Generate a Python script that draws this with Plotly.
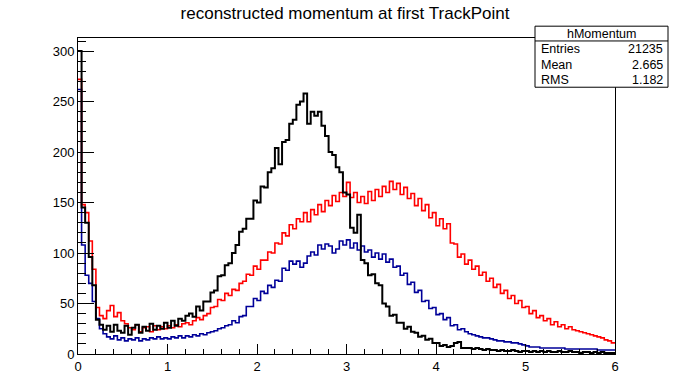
import numpy as np
import plotly.graph_objects as go

# ---------------- data ----------------
x_min, x_max = 0.0, 6.0
bin_width = 0.04

black_counts = [
    300, 145, 130, 96, 68, 34,
    29, 24, 28, 22, 29, 23,
    21, 28, 19, 26, 29, 21,
    27, 23, 30, 24, 28, 25,
    31, 26, 33, 28, 35, 33,
    38, 40, 37, 47, 43, 52,
    52, 61, 63, 77, 78, 88,
    90, 100, 108, 121, 124, 134,
    134, 152, 150, 166, 165, 180,
    184, 204, 188, 210, 212, 228,
    232, 247, 250, 258, 228, 240,
    236, 240, 226, 216, 200, 197,
    185, 180, 160, 158, 125, 120,
    138, 93, 90, 78, 79, 70,
    68, 50, 47, 38, 39, 31,
    31, 25, 27, 22, 21, 17,
    18, 14, 15, 11, 11, 8,
    9, 7, 8, 11, 12, 6,
    6, 6, 5, 6, 5, 4,
    5, 4, 4, 3, 4, 3,
    3, 4, 3, 2, 3, 3,
    2, 3, 2, 3, 2, 3,
    2, 2, 3, 2, 2, 3,
    2, 2, 1, 2, 2, 1,
    2, 1, 2, 1, 1, 1,
]

red_counts = [
    272, 148, 140, 112, 84, 46,
    38, 35, 43, 48, 37, 41,
    33, 30, 26, 24, 29, 22,
    26, 27, 22, 28, 24, 27,
    25, 28, 26, 29, 27, 30,
    31, 29, 33, 36, 34, 38,
    40, 46, 47, 54, 53, 60,
    58, 64, 63, 70, 72, 79,
    78, 87, 84, 93, 93, 101,
    100, 110, 109, 120, 117, 128,
    124, 134, 131, 140, 131, 143,
    138, 148, 141, 152, 147, 157,
    151, 160, 156, 170, 155, 160,
    150, 156, 149, 161, 152, 163,
    156, 166, 160, 171, 163, 169,
    158, 165, 154, 159, 147, 154,
    142, 148, 135, 140, 127, 134,
    124, 129, 110, 109, 96, 99,
    89, 93, 84, 87, 78, 81,
    72, 75, 66, 69, 60, 63,
    55, 58, 50, 53, 46, 47,
    40, 43, 36, 38, 33, 35,
    29, 32, 27, 29, 25, 27,
    24, 23, 22, 21, 20, 19,
    18, 17, 16, 14, 13, 11,
]

blue_counts = [
    262, 108, 78, 70, 52, 35,
    25, 20, 17, 15, 18, 14,
    16, 13, 15, 14, 16, 13,
    15, 14, 16, 15, 17, 15,
    16, 15, 17, 16, 18, 16,
    18, 17, 19, 18, 20, 19,
    21, 22, 23, 25, 26, 28,
    29, 33, 31, 37, 38, 47,
    47, 55, 53, 62, 60, 68,
    66, 73, 72, 85, 83, 92,
    89, 92, 86, 90, 97, 101,
    98, 108, 104, 109, 107, 100,
    104, 112, 108, 113, 105, 110,
    103, 107, 101, 103, 96, 100,
    94, 99, 91, 94, 86, 87,
    78, 80, 69, 71, 61, 63,
    52, 53, 45, 46, 39, 40,
    34, 36, 28, 29, 24, 25,
    22, 20, 19, 18, 17, 16,
    16, 15, 14, 13, 13, 12,
    12, 11, 11, 10, 9, 8,
    7, 7, 7, 6, 6, 6,
    6, 6, 6, 6, 5, 5,
    5, 5, 5, 5, 5, 5,
    5, 4, 4, 4, 4, 4,
]

title_text = "reconstructed momentum at first TrackPoint"
stats_name = "hMomentum"
stats_labels = ["Entries", "Mean", "RMS"]
stats_values = ["21235", "2.665", "1.182"]

y_max = 313
y_tick_vals = [0, 50, 100, 150, 200, 250, 300]
x_tick_vals = [0, 1, 2, 3, 4, 5, 6]

# ---------------- figure ----------------
W, H = 682, 386
L, R, T, B = 78, 615, 38, 359


def px(xp):
    return (xp - L) / (R - L)


def py(yp):
    return (B - yp) / (B - T)


n_bins = len(black_counts)
edges = x_min + bin_width * np.arange(n_bins + 1)


def step_trace(counts, color, width):
    xs = list(edges)
    ys = list(counts) + [counts[-1]]
    return go.Scatter(x=xs, y=ys, mode="lines", line=dict(shape="hv", color=color, width=width),
                      hoverinfo="skip", showlegend=False)


fig = go.Figure()
fig.add_trace(step_trace(blue_counts, "#000099", 1.6))
fig.add_trace(step_trace(red_counts, "#ff0000", 1.6))
fig.add_trace(step_trace(black_counts, "#000000", 2.0))

font_family = "Liberation Sans, Arial, Helvetica, sans-serif"

fig.update_layout(
    width=W, height=H,
    margin=dict(l=L, r=W - R, t=T, b=H - B),
    paper_bgcolor="white", plot_bgcolor="white",
    font=dict(family=font_family, size=12, color="black"),
    title=dict(text=title_text, x=345 / W, xref="container", xanchor="center",
               y=1 - 13 / H, yref="container", yanchor="middle",
               font=dict(size=17, family=font_family, color="black")),
    showlegend=False,
)

fig.update_xaxes(range=[x_min, x_max], showgrid=False, zeroline=False,
                 showline=True, linecolor="black", linewidth=1, mirror=True,
                 ticks="inside", ticklen=10, tickwidth=1, tickcolor="black",
                 tickvals=x_tick_vals, ticktext=[str(v) for v in x_tick_vals],
                 tickfont=dict(size=13),
                 minor=dict(ticks="inside", ticklen=5, dtick=0.2, tick0=0, tickcolor="black", showgrid=False))
fig.update_yaxes(range=[0, y_max], showgrid=False, zeroline=False,
                 showline=True, linecolor="black", linewidth=1, mirror=True,
                 ticks="inside", ticklen=16, tickwidth=1, tickcolor="black",
                 tickvals=y_tick_vals, ticktext=[str(v) for v in y_tick_vals],
                 tickfont=dict(size=13),
                 minor=dict(ticks="inside", ticklen=8, dtick=10, tick0=0, tickcolor="black", showgrid=False))

# stats box
bx0, bx1, by0, by1, bsep = 535, 668, 26, 88, 41
fig.add_shape(type="rect", xref="paper", yref="paper", x0=px(bx0), x1=px(bx1), y0=py(by1), y1=py(by0),
              line=dict(color="black", width=1), fillcolor="white", layer="above")
fig.add_shape(type="line", xref="paper", yref="paper", x0=px(bx0), x1=px(bx1), y0=py(bsep), y1=py(bsep),
              line=dict(color="black", width=1), layer="above")
fig.add_annotation(xref="paper", yref="paper", x=px((bx0 + bx1) / 2), y=py(33.5), text=stats_name,
                   showarrow=False, xanchor="center", yanchor="middle", font=dict(size=12.5))
row_y = [49, 65, 81]
for lab, val, yy in zip(stats_labels, stats_values, row_y):
    fig.add_annotation(xref="paper", yref="paper", x=px(539), y=py(yy), text=lab,
                       showarrow=False, xanchor="left", yanchor="middle", font=dict(size=12.5))
    fig.add_annotation(xref="paper", yref="paper", x=px(665), y=py(yy), text=val,
                       showarrow=False, xanchor="right", yanchor="middle", font=dict(size=12.5))

fig.write_html("out.html")
